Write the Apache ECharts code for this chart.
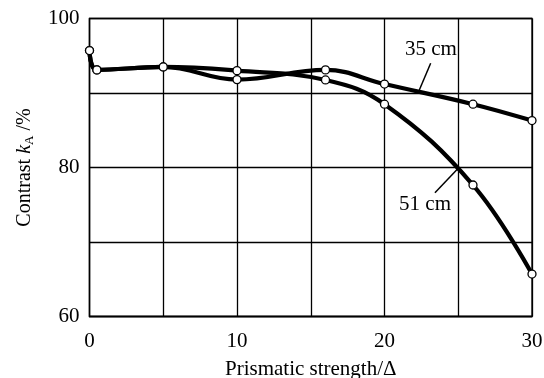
<!DOCTYPE html>
<html>
<head>
<meta charset="utf-8">
<style>html,body{margin:0;padding:0;background:#fff;}#c{width:544px;height:378px;}</style>
<script src="https://cdn.jsdelivr.net/npm/echarts@6/dist/echarts.min.js"></script>
</head>
<body>
<div id="c"></div>
<script>
// Data
const prism35 = [0, 0.5, 5, 10, 16, 20, 26, 30];
const contrast35 = [95.7, 93.1, 93.5, 91.8, 93.1, 91.2, 88.5, 86.3];
const prism51 = [0, 0.5, 5, 10, 16, 20, 26, 30];
const contrast51 = [95.7, 93.1, 93.5, 93.0, 91.75, 88.5, 77.65, 65.7];
const xTickLabels = [0, 10, 20, 30];
const yTickLabels = [60, 80, 100];
const seriesNames = ['35 cm', '51 cm'];
// annotation anchors (data units): text position, leader start, leader end
const label35 = [23.15, 95.9];
const leader35 = [[23.13, 94.0], [22.36, 90.4]];
const label51 = [22.75, 75.0];
const leader51 = [[23.42, 76.6], [25.0, 79.9]];

const FONT = 'Liberation Serif';
const chart = echarts.init(document.getElementById('c'), null, {renderer: 'canvas'});

function pairs(xs, ys) { return xs.map((x, i) => [x, ys[i]]); }

function mkSeries(name, data, lab, leader) {
  return {
    name: name,
    type: 'line',
    data: data,
    smooth: 0.4,
    clip: false,
    symbol: 'circle',
    symbolSize: 8,
    itemStyle: {color: '#fff', borderColor: '#000', borderWidth: 1.3},
    lineStyle: {color: '#000', width: 4.2},
    z: 5,
    markLine: {
      silent: true,
      symbol: ['none', 'none'],
      label: {show: false},
      lineStyle: {color: '#000', width: 1.5, type: 'solid'},
      data: [[{coord: leader[0]}, {coord: leader[1]}]]
    },
    markPoint: {
      silent: true,
      symbol: 'circle',
      symbolSize: 0,
      label: {
        show: true,
        position: 'inside',
        formatter: name,
        color: '#000',
        fontFamily: FONT,
        fontSize: 21
      },
      data: [{coord: lab}]
    }
  };
}

chart.setOption({
  animation: false,
  backgroundColor: '#fff',
  grid: {left: 89.5, right: 12, top: 18.5, bottom: 61.5, containLabel: false, outerBoundsMode: 'none', show: true, borderColor: '#000', borderWidth: 1.3, backgroundColor: 'transparent'},
  xAxis: {
    type: 'value', min: 0, max: 30, interval: 5,
    name: 'Prismatic strength/Δ', nameLocation: 'middle', nameGap: 42,
    nameTextStyle: {fontFamily: FONT, fontSize: 21, color: '#000'},
    axisLine: {show: true, lineStyle: {color: '#000', width: 1.3}},
    axisTick: {show: false},
    axisLabel: {
      color: '#000', fontFamily: FONT, fontSize: 21, margin: 14,
      formatter: v => (xTickLabels.indexOf(v) >= 0 ? String(v) : '')
    },
    splitLine: {show: true, lineStyle: {color: '#000', width: 1.3}}
  },
  yAxis: {
    type: 'value', min: 60, max: 100, interval: 10,
    name: 'Contrast {i|k}{s|A} /%', nameLocation: 'middle', nameGap: 53,
    nameTextStyle: {
      fontFamily: FONT, fontSize: 20, color: '#000',
      rich: {
        i: {fontFamily: FONT, fontSize: 20, fontStyle: 'italic', color: '#000'},
        s: {fontFamily: FONT, fontSize: 13, color: '#000', verticalAlign: 'bottom', padding: [10, 0, 0, 0]}
      }
    },
    axisLine: {show: true, lineStyle: {color: '#000', width: 1.3}},
    axisTick: {show: false},
    axisLabel: {
      color: '#000', fontFamily: FONT, fontSize: 21, margin: 10,
      formatter: v => (yTickLabels.indexOf(v) >= 0 ? String(v) : '')
    },
    splitLine: {show: true, lineStyle: {color: '#000', width: 1.3}}
  },
  series: [
    mkSeries(seriesNames[0], pairs(prism35, contrast35), label35, leader35),
    mkSeries(seriesNames[1], pairs(prism51, contrast51), label51, leader51)
  ]
});
</script>
</body>
</html>
